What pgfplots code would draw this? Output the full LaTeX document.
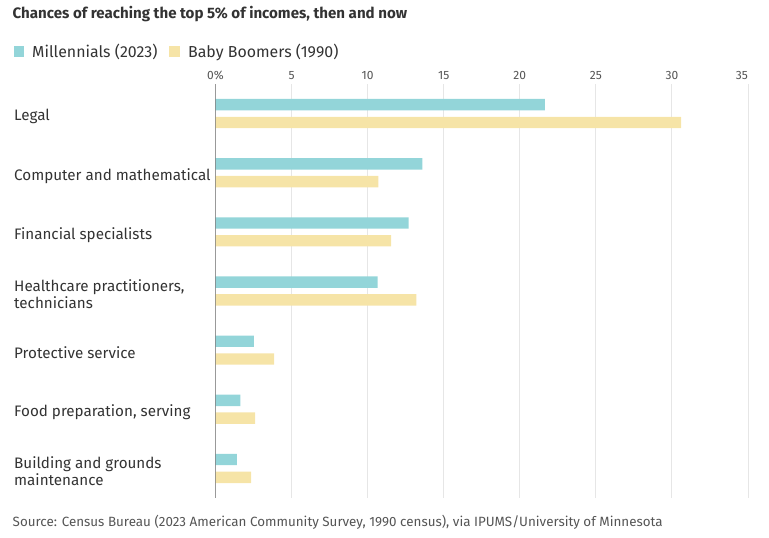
\documentclass[border=0pt]{standalone}
\usepackage{fontspec}
\setmainfont{Fira Sans}
\usepackage{pgfplots}
\pgfplotsset{compat=1.18}
\definecolor{mill}{HTML}{93D5D9}
\definecolor{boom}{HTML}{F6E4A7}
\definecolor{gridc}{HTML}{E6E6E6}
\definecolor{txt}{HTML}{333333}
\definecolor{ticktxt}{HTML}{555555}
\definecolor{axc}{HTML}{707070}
\pgfplotsset{sq/.style={legend image code/.code={\fill[##1] (0pt,-5.3pt) rectangle (10.7pt,5.3pt);}}}
\begin{document}
\begin{tikzpicture}
\useasboundingbox (0pt,0pt) rectangle (769pt,538pt);
\node[anchor=base west, inner sep=0pt, font=\fontsize{15.1}{18}\selectfont\bfseries, text=txt] at (12.5pt,519pt) {Chances of reaching the top 5\% of incomes, then and now};
\node[anchor=base west, inner sep=0pt, font=\fontsize{13.4}{16}\selectfont, text=ticktxt] at (12.5pt,11pt) {Source: Census Bureau (2023 American Community Survey, 1990 census), via IPUMS/University of Minnesota};
\begin{axis}[
  at={(215.5pt,454pt)}, anchor=north west,
  scale only axis, width=532.5pt, height=414pt,
  xbar, bar width=11.4pt,
  xmin=0, xmax=35, ymin=-0.5, ymax=6.5, y dir=reverse,
  ytick={0,...,6},
  yticklabels={Legal, Computer and mathematical, Financial specialists, {Healthcare practitioners,\\technicians}, Protective service, {Food preparation, serving}, {Building and grounds\\maintenance}},
  yticklabel style={anchor=west, align=left, inner sep=0pt, xshift=-201.5pt, yshift=-3pt, font=\fontsize{15.2}{16.8}\selectfont, text=txt},
  xtick={0,5,...,30}, xticklabels={0\%,5,10,15,20,25,30},
  extra x ticks={35}, extra x tick labels={35},
  extra x tick style={grid=major, xticklabel style={anchor=base east}},
  xticklabel pos=upper,
  xticklabel style={anchor=base, inner sep=0pt, yshift=4pt, font=\fontsize{12}{13}\selectfont, text=ticktxt},
  /pgf/number format/assume math mode=true,
  xmajorgrids, grid style={gridc, line width=1pt},
  major tick length=0pt,
  axis line style={draw=none},
  legend columns=2,
  legend style={at={(-0.3797,1.097)}, anchor=north west, draw=none, fill=none, inner sep=0pt,
    nodes={inner sep=0pt, font=\fontsize{15.9}{18}\selectfont, text=txt},
    /tikz/every odd column/.append style={column sep=8pt},
    /tikz/every even column/.append style={column sep=12pt}},
  legend cell align=left,
]
\addplot[fill=mill, draw=none, bar shift=8.9pt, sq] coordinates {(21.65,0) (13.6,1) (12.7,2) (10.65,3) (2.53,4) (1.63,5) (1.41,6)};
\addlegendentry{Millennials (2023)}
\addplot[fill=boom, draw=none, bar shift=-8.9pt, sq] coordinates {(30.6,0) (10.7,1) (11.55,2) (13.2,3) (3.85,4) (2.6,5) (2.34,6)};
\addlegendentry{Baby Boomers (1990)}
\draw[axc, line width=1.5pt] (rel axis cs:0,0) -- (rel axis cs:0,1);
\end{axis}
\end{tikzpicture}
\end{document}
